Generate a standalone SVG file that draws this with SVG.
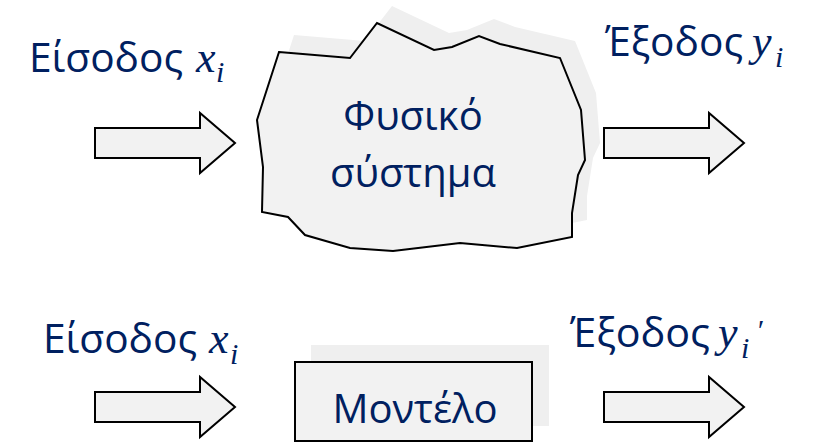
<svg xmlns="http://www.w3.org/2000/svg" xmlns:xlink="http://www.w3.org/1999/xlink" width="818" height="443" viewBox="0 0 818 443">
<style>
.lbl{font-family:"Open Sans","Noto Sans",sans-serif;font-size:40px;fill:#002060}
.math{font-family:"Liberation Serif","DejaVu Serif",serif;font-style:italic;font-size:44px;fill:#002060}
.sub{font-family:"Liberation Serif","DejaVu Serif",serif;font-style:italic;font-size:30px;fill:#002060}
.shape{fill:#f2f2f2;stroke:#000;stroke-width:2}
.shadow{fill:#efefef;stroke:none}
.arrow{fill:#f2f2f2;stroke:#000;stroke-width:2;stroke-linejoin:miter}
</style>
<defs>
<polygon id="cloud" points="279,52 350,58 377,23 434,50 452,47 479,36 500,44 560,58 581,110 585,160 578,175 572,213 572,237 517,248 460,243 393,251 350,248 305,235 288,217 262,212 263,167 257,120"/>
<path id="arr" d="M0,15 H105 V0 L140,30 L105,60 V45 H0 Z"/>
</defs>
<rect width="818" height="443" fill="#fff"/>
<g id="connectors">
<use xlink:href="#arr" class="arrow" transform="translate(95,113)"/>
<use xlink:href="#arr" class="arrow" transform="translate(604,113)"/>
<use xlink:href="#arr" class="arrow" transform="translate(95,377)"/>
<use xlink:href="#arr" class="arrow" transform="translate(604,377)"/>
</g>
<g id="physical-system">
<use xlink:href="#cloud" class="shadow" transform="translate(15,-17)"/>
<use xlink:href="#cloud" class="shape"/>
<text class="lbl" x="413" y="130" text-anchor="middle">Φυσικό</text>
<text class="lbl" x="413" y="187" text-anchor="middle">σύστημα</text>
</g>
<g id="model">
<rect class="shadow" x="311" y="345" width="238" height="81"/>
<rect class="shape" x="295" y="362" width="237" height="79"/>
<text class="lbl" x="415" y="423" text-anchor="middle">Μοντέλο</text>
</g>
<g id="input-top">
<text class="lbl" x="29" y="72" textLength="154" lengthAdjust="spacingAndGlyphs">Είσοδος</text>
<text class="math" x="196" y="72">x</text>
<text class="sub" x="216" y="82">i</text>
</g>
<g id="output-top">
<text class="lbl" x="605" y="56" textLength="138" lengthAdjust="spacingAndGlyphs">Έξοδος</text>
<text class="math" x="752" y="56">y</text>
<text class="sub" x="775" y="67">i</text>
</g>
<g id="input-bottom">
<text class="lbl" x="43" y="353" textLength="154" lengthAdjust="spacingAndGlyphs">Είσοδος</text>
<text class="math" x="209" y="353">x</text>
<text class="sub" x="230" y="364">i</text>
</g>
<g id="output-bottom">
<text class="lbl" x="570" y="347" textLength="140" lengthAdjust="spacingAndGlyphs">Έξοδος</text>
<text class="math" x="718" y="347">y</text>
<text class="sub" x="741" y="358">i</text>
<text class="sub" x="756" y="340">′</text>
</g>
</svg>
